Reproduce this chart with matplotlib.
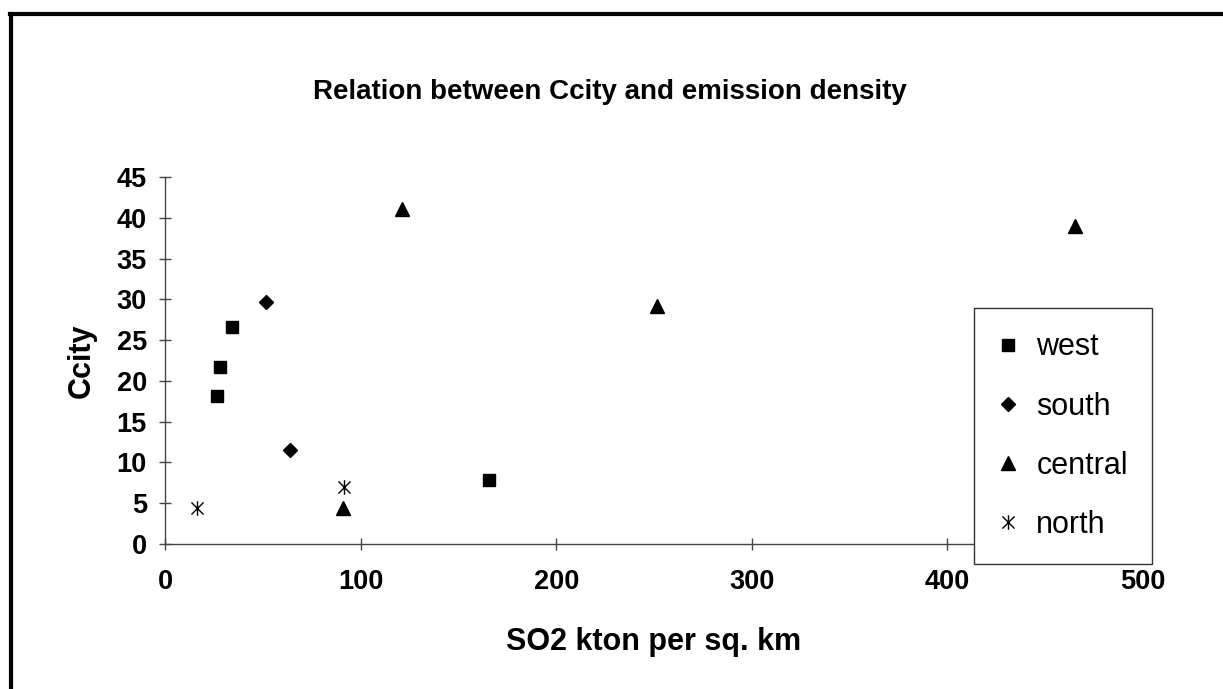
import numpy as np
import matplotlib
matplotlib.use('Agg')
import matplotlib.pyplot as plt
from matplotlib.path import Path
from matplotlib.lines import Line2D

plt.rcParams['font.family'] = ['Liberation Sans', 'DejaVu Sans']

# values
west_x = [26.6, 28.1, 34.2, 165.7]
west_y = [18.1, 21.7, 26.6, 7.8]
south_x = [51.6, 63.7]
south_y = [29.7, 11.5]
central_x = [91.0, 121.0, 251.4, 465.4]
central_y = [4.4, 41.1, 29.2, 39.0]
north_x = [16.5, 91.3]
north_y = [4.45, 7.0]

x_ticks = [0, 100, 200, 300, 400, 500]
y_ticks = [0, 5, 10, 15, 20, 25, 30, 35, 40, 45]

# asterisk marker like Excel's star: an X with a vertical stroke
star = Path([(-1, -1), (1, 1), (-1, 1), (1, -1), (0, -1.2), (0, 1.2)],
            [Path.MOVETO, Path.LINETO, Path.MOVETO, Path.LINETO, Path.MOVETO, Path.LINETO])

fig = plt.figure(figsize=(12.23, 6.89), dpi=100)
ax = fig.add_axes([0.1349, 0.2104, 0.7997, 0.5327])

ax.plot(west_x, west_y, 's', color='black', ms=9, ls='none', label='west', clip_on=False)
ax.plot(south_x, south_y, 'D', color='black', ms=7.5, ls='none', label='south', clip_on=False)
ax.plot(central_x, central_y, '^', color='black', ms=9.5, ls='none', label='central', clip_on=False)
ax.plot(north_x, north_y, marker=star, color='black', mfc='none', mec='black', mew=1,
        ms=10.5, ls='none', label='north', clip_on=False)

ax.set_xlim(0, 500)
ax.set_ylim(0, 45)
ax.set_xticks(x_ticks)
ax.set_yticks(y_ticks)
for s in ['top', 'right']:
    ax.spines[s].set_visible(False)
for s in ['left', 'bottom']:
    ax.spines[s].set_color('#444444')
    ax.spines[s].set_linewidth(1)
ax.tick_params(direction='inout', length=8, width=1, color='#444444')
ax.tick_params(axis='y', pad=9)
ax.tick_params(axis='x', pad=14)
for lab in ax.get_xticklabels() + ax.get_yticklabels():
    lab.set_fontsize(19.5)
    lab.set_fontweight('bold')

ax.set_xlabel('SO2 kton per sq. km', fontsize=22, fontweight='bold')
ax.xaxis.set_label_coords(0.5, -0.225)
ax.set_ylabel('Ccity', fontsize=22, fontweight='bold')
ax.yaxis.set_label_coords(-0.0695, 0.5)

fig.text(0.499, 0.866, 'Relation between Ccity and emission density',
         fontsize=20, fontweight='bold', ha='center', va='center')

leg = ax.legend(loc='upper left', bbox_to_anchor=(0.827, 0.643), borderaxespad=0,
                fontsize=22, frameon=True, fancybox=False, shadow=False,
                labelspacing=0.95, borderpad=0.8, handlelength=0.65,
                handletextpad=0.6, framealpha=1)
leg.get_frame().set_edgecolor('#333333')
leg.get_frame().set_linewidth(1)
leg.set_zorder(5)

# outer chart border (only top and left edges are in the crop)
fig.add_artist(Line2D([10 / 1223, 1], [1 - 13.5 / 689, 1 - 13.5 / 689],
                      transform=fig.transFigure, color='black', lw=3))
fig.add_artist(Line2D([11 / 1223, 11 / 1223], [0, 1 - 13.5 / 689],
                      transform=fig.transFigure, color='black', lw=3))

fig.savefig('out.png', dpi=100)
